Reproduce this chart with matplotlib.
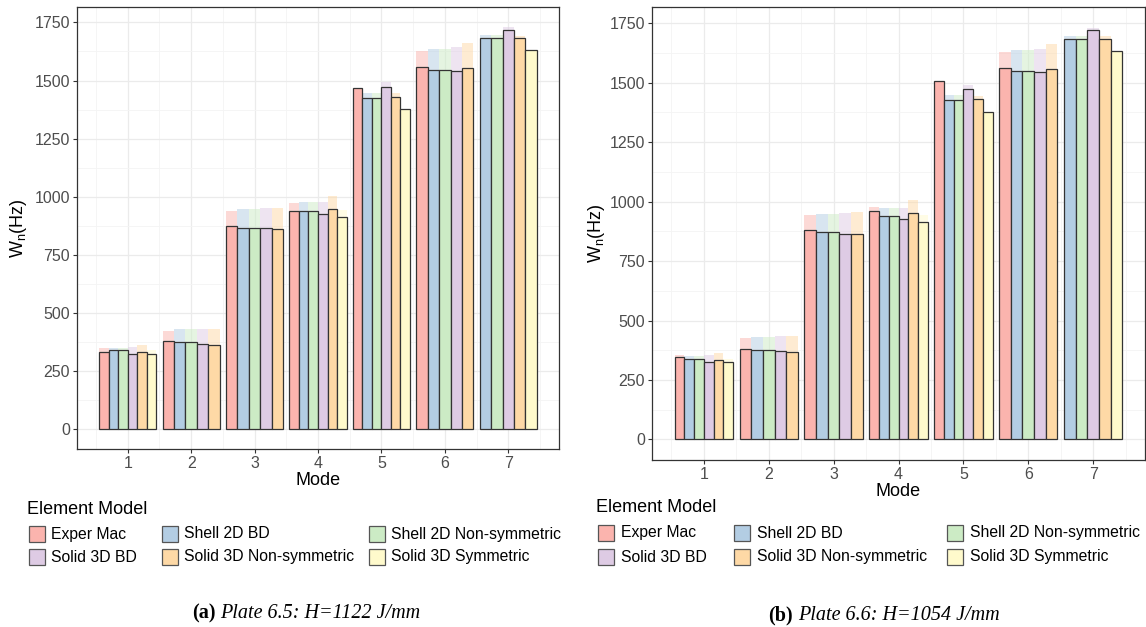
import numpy as np
import matplotlib
matplotlib.use("Agg")
import matplotlib.pyplot as plt
from matplotlib.patches import Rectangle

plt.rcParams["font.family"] = ["Liberation Sans", "DejaVu Sans"]
plt.rcParams["mathtext.fontset"] = "custom"
plt.rcParams["mathtext.rm"] = "Liberation Sans"

W, H = 1146, 627
nan = np.nan

modes = [1, 2, 3, 4, 5, 6, 7]
models = ["Exper Mac", "Shell 2D BD", "Shell 2D Non-symmetric",
          "Solid 3D BD", "Solid 3D Non-symmetric", "Solid 3D Symmetric"]
colors = ["#FBB4AE", "#B3CDE3", "#CCEBC5", "#DECBE4", "#FED9A6", "#FFFACC"]

# plate 6.5, H=1122 J/mm
a_exper = [331, 377, 872, 940, 1468, 1557, nan]
a_shell_bd = [339, 373, 865, 938, 1425, 1547, 1683]
a_shell_ns = [339, 374, 867, 938, 1425, 1547, 1683]
a_solid_bd = [323, 367, 864, 925, 1472, 1542, 1719]
a_solid_ns = [331, 363, 859, 948, 1429, 1554, 1683]
a_solid_sym = [324, nan, nan, 914, 1377, nan, 1633]
# faded bars behind
a_exper_f = [349, 423, 937, 973, 1450, 1625, nan]
a_shell_bd_f = [349, 428, 947, 976, 1446, 1637, 1697]
a_shell_ns_f = [349, 428, 947, 976, 1446, 1637, 1697]
a_solid_bd_f = [351, 432, 951, 976, 1492, 1643, 1730]
a_solid_ns_f = [363, 432, 953, 1004, 1446, 1661, 1693]
a_solid_sym_f = [339, nan, nan, 944, 1370, nan, 1620]

# plate 6.6, H=1054 J/mm
b_exper = [346, 381, 879, 960, 1509, 1564, nan]
b_shell_bd = [340, 377, 871, 938, 1428, 1551, 1686]
b_shell_ns = [340, 377, 871, 938, 1428, 1551, 1686]
b_solid_bd = [325, 371, 865, 927, 1473, 1547, 1721]
b_solid_ns = [333, 367, 862, 952, 1431, 1557, 1686]
b_solid_sym = [325, nan, nan, 914, 1378, nan, 1635]
b_exper_f = [353, 427, 942, 977, 1490, 1631, nan]
b_shell_bd_f = [350, 430, 946, 973, 1448, 1638, 1697]
b_shell_ns_f = [350, 430, 946, 973, 1448, 1638, 1697]
b_solid_bd_f = [353, 433, 952, 973, 1490, 1644, 1732]
b_solid_ns_f = [364, 433, 955, 1005, 1445, 1663, 1697]
b_solid_sym_f = [340, nan, nan, 942, 1370, nan, 1620]

a_main = [a_exper, a_shell_bd, a_shell_ns, a_solid_bd, a_solid_ns, a_solid_sym]
a_fade = [a_exper_f, a_shell_bd_f, a_shell_ns_f, a_solid_bd_f, a_solid_ns_f, a_solid_sym_f]
b_main = [b_exper, b_shell_bd, b_shell_ns, b_solid_bd, b_solid_ns, b_solid_sym]
b_fade = [b_exper_f, b_shell_bd_f, b_shell_ns_f, b_solid_bd_f, b_solid_ns_f, b_solid_sym_f]

fig = plt.figure(figsize=(W / 100, H / 100), dpi=100)


def px_axes(l, t, r, b):
    return fig.add_axes([l / W, 1 - b / H, (r - l) / W, (b - t) / H])


def draw_panel(ax, main, fade, xlabpad, ylab_x):
    top = np.nanmax(np.array(main + fade, dtype=float))
    for k, m in enumerate(modes):
        present = [i for i in range(len(models)) if not np.isnan(main[i][k])]
        w = 0.9 / len(present)
        for j, i in enumerate(present):
            x = m - 0.45 + w * (j + 0.5)
            if not np.isnan(fade[i][k]):
                ax.bar(x, fade[i][k], width=w, color=colors[i], alpha=0.5,
                       lw=0, zorder=2)
            ax.bar(x, main[i][k], width=w, color=colors[i],
                   edgecolor="#333333", lw=0.9, zorder=3)
    ax.set_xlim(0.2, 7.8)
    ax.set_ylim(-0.05 * top, 1.05 * top)
    ax.set_xticks(modes)
    ax.set_xticks(np.arange(0.5, 8, 1), minor=True)
    ax.set_yticks(np.arange(0, 1751, 250))
    ax.set_yticks(np.arange(125, 1800, 250), minor=True)
    ax.grid(which="major", color="#EBEBEB", lw=0.9, zorder=0)
    ax.grid(which="minor", color="#F4F4F4", lw=0.6, zorder=0)
    ax.set_axisbelow(True)
    for s in ax.spines.values():
        s.set_color("#333333")
        s.set_linewidth(0.9)
    ax.tick_params(which="major", length=3, width=0.8, color="#333333",
                   labelsize=11.5, labelcolor="#4D4D4D", pad=2)
    ax.tick_params(which="minor", length=0)
    ax.set_xlabel("Mode", fontsize=13, labelpad=xlabpad)
    ax.set_ylabel(r"W$_\mathregular{n}$(Hz)", fontsize=13)
    ax.yaxis.set_label_coords(ylab_x, 0.5)


def draw_legend(tx, ty, col_x, rows_y, off):
    fig.text(tx / W, 1 - ty / H, "Element Model", fontsize=13,
             ha="left", va="center")
    ks = 16
    for i, name in enumerate(models):
        r, c = i // 3, i % 3
        x0, yc = col_x[c], rows_y[r]
        fig.add_artist(Rectangle((x0 / W, 1 - (yc + ks / 2) / H), ks / W, ks / H,
                                 transform=fig.transFigure, facecolor=colors[i],
                                 edgecolor="#555555", lw=0.9))
        fig.text((x0 + off) / W, 1 - yc / H, name, fontsize=11.3,
                 ha="left", va="center")


def caption(cx, cy, tag, rest):
    t1 = fig.text(0, 1 - cy / H, tag, fontsize=14.5, family="Liberation Serif",
                  weight="bold", ha="left", va="center")
    t2 = fig.text(0, 1 - cy / H, rest, fontsize=14.5, family="Liberation Serif",
                  style="italic", ha="left", va="center")
    fig.canvas.draw()
    r = fig.canvas.get_renderer()
    w1 = t1.get_window_extent(r).width
    w2 = t2.get_window_extent(r).width
    gap = 5
    x0 = cx - (w1 + gap + w2) / 2
    t1.set_x(x0 / W)
    t2.set_x((x0 + w1 + gap) / W)


ax1 = px_axes(77, 7, 559, 449)
draw_panel(ax1, a_main, a_fade, 1, -0.1)
ax2 = px_axes(652, 7, 1145, 460)
draw_panel(ax2, b_main, b_fade, 1, -0.091)

draw_legend(27, 509, [29, 162, 369], [534, 557], 22)
draw_legend(596, 508, [598, 734, 947], [533, 557], 23)

caption(306, 613, "(a)", "Plate 6.5: H=1122 J/mm")
caption(884, 615, "(b)", "Plate 6.6: H=1054 J/mm")

fig.savefig("out.png", dpi=100, facecolor="white")
